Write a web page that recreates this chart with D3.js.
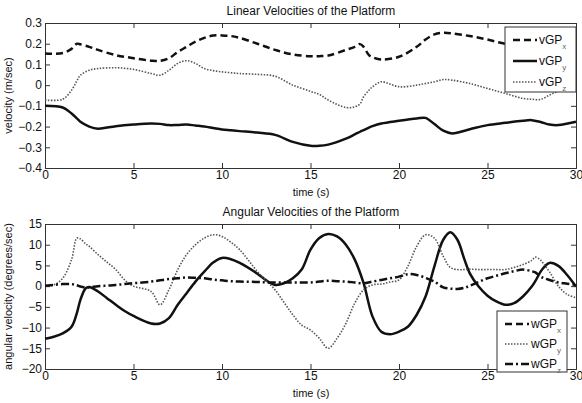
<!DOCTYPE html>
<html>
<head>
<meta charset="utf-8">
<script src="https://cdn.jsdelivr.net/npm/d3@7"></script>
<style>
  body { margin: 0; background: #fff; }
  text { font-family: "Liberation Sans", Arial, sans-serif; fill: #111; }
</style>
</head>
<body>
<div id="chart"></div>
<script>
// time samples and series for the linear velocity panel
const tLin = [0, 1, 1.5, 1.8, 2, 2.5, 3, 4, 5, 6, 6.5, 7, 7.5, 8, 8.5, 9, 9.5, 10, 10.5, 11, 12, 13, 14, 15, 15.5, 16, 17, 17.5, 17.8, 18, 18.3, 18.5, 19, 20, 21, 21.5, 22, 22.5, 23, 24, 25, 26, 27, 27.5, 28, 28.5, 29, 30];
const vGPx = [0.153, 0.155, 0.175, 0.2, 0.197, 0.185, 0.17, 0.145, 0.13, 0.118, 0.117, 0.13, 0.16, 0.185, 0.21, 0.228, 0.24, 0.24, 0.237, 0.228, 0.2, 0.17, 0.148, 0.14, 0.14, 0.143, 0.17, 0.185, 0.198, 0.185, 0.145, 0.135, 0.124, 0.137, 0.185, 0.22, 0.245, 0.253, 0.25, 0.237, 0.22, 0.2, 0.19, 0.19, 0.195, 0.2, 0.21, 0.225];
const vGPy = [-0.1, -0.108, -0.137, -0.16, -0.177, -0.2, -0.21, -0.198, -0.19, -0.185, -0.187, -0.193, -0.192, -0.19, -0.195, -0.2, -0.207, -0.214, -0.218, -0.222, -0.229, -0.24, -0.274, -0.293, -0.293, -0.287, -0.258, -0.238, -0.225, -0.217, -0.205, -0.198, -0.185, -0.172, -0.161, -0.158, -0.188, -0.22, -0.233, -0.213, -0.193, -0.182, -0.172, -0.169, -0.178, -0.19, -0.193, -0.177];
const vGPz = [-0.072, -0.068, -0.024, 0.02, 0.048, 0.072, 0.08, 0.084, 0.076, 0.056, 0.048, 0.072, 0.105, 0.118, 0.105, 0.08, 0.07, 0.064, 0.06, 0.056, 0.052, 0.043, 0.0, -0.03, -0.045, -0.072, -0.108, -0.105, -0.09, -0.056, -0.025, -0.008, 0.016, -0.008, 0.0, 0.008, 0.016, 0.027, 0.024, 0.008, -0.016, -0.04, -0.064, -0.068, -0.069, -0.048, -0.03, -0.01];

// time samples and series for the angular velocity panel
const tAng = [0, 0.5, 1, 1.5, 1.8, 2, 2.3, 2.5, 3, 3.5, 4, 4.5, 5, 6, 6.5, 7, 7.5, 8, 8.5, 9, 9.5, 10, 10.5, 11, 12, 12.5, 13, 13.5, 14, 14.5, 15, 15.5, 16, 16.5, 17, 17.5, 18, 18.5, 19, 19.5, 20, 20.5, 21, 21.5, 22, 22.5, 22.9, 23.3, 23.7, 24, 24.5, 25, 25.5, 26, 26.5, 27, 27.5, 27.7, 28, 28.2, 28.5, 29, 29.5, 30];
const wGPx = [-12.7, -12.2, -11.4, -9.8, -6.5, -3.3, -0.5, -0.2, -1.3, -2.9, -4.5, -6.0, -7.2, -9.0, -9.0, -7.7, -4.5, -1.7, 1.1, 3.5, 5.7, 6.8, 6.5, 5.6, 3.0, 1.4, 0.3, 0.7, 1.9, 4.0, 8.8, 11.6, 12.6, 12.0, 10.0, 6.4, 0.7, -7.3, -11.0, -11.6, -11.0, -9.8, -6.9, -2.5, 4.8, 11.2, 13.0, 11.2, 6.4, 3.1, -0.1, -2.3, -3.7, -4.5, -4.1, -2.5, -0.1, 1.2, 3.5, 4.6, 5.6, 4.9, 2.7, -0.1];
const wGPy = [0, 0.3, 1.9, 6.4, 11.6, 11.4, 10.2, 9.6, 7.6, 5.8, 4.0, 1.5, 0, -1.3, -4.5, -0.9, 4.0, 7.6, 10, 11.6, 12.4, 12, 10.6, 8.8, 3.5, 1.3, -0.9, -3.9, -6.9, -9.4, -10.6, -12.6, -15, -12.6, -9.0, -4.1, -0.9, 0.3, 0.5, 1.0, 1.5, 4.8, 9.6, 12.4, 11.6, 7.2, 4.5, 4.0, 4.0, 4.1, 4.0, 4.0, 4.0, 4.0, 4.5, 5.2, 6.2, 7.0, 6.3, 5.2, 3.5, 0, -2, -2.8];
const wGPz = [0.1, 0.3, 0.5, 0.5, 0.2, -0.1, -0.3, -0.3, 0, 0.1, 0.3, 0.5, 0.7, 1.1, 1.4, 1.7, 1.9, 2.1, 2.0, 1.9, 1.6, 1.4, 1.2, 1.1, 1.0, 0.9, 0.9, 0.9, 0.9, 0.9, 0.9, 1.1, 1.3, 1.2, 1.1, 0.9, 0.7, 1.1, 1.5, 1.9, 2.3, 2.9, 2.7, 2.0, 1.1, -0.3, -0.6, -0.7, -0.4, 0.1, 1.0, 1.9, 2.5, 3.1, 3.6, 4.0, 3.6, 3.3, 2.3, 1.9, 1.5, 0.9, 0.6, 0.3];

const xTicks = [0, 5, 10, 15, 20, 25, 30];
const linTicks = [0.3, 0.2, 0.1, 0, -0.1, -0.2, -0.3, -0.4];
const angTicks = [15, 10, 5, 0, -5, -10, -15, -20];

const W = 582, H = 403;
const svg = d3.select("#chart").append("svg")
  .attr("width", W)
  .attr("height", H);

const x = d3.scaleLinear().domain([0, 30]).range([45, 576]);

function panel(cfg) {
  const y = d3.scaleLinear().domain(cfg.domain).range([cfg.bottom, cfg.top]);
  const g = svg.append("g");

  g.append("rect")
    .attr("x", 45).attr("y", cfg.top)
    .attr("width", 531).attr("height", cfg.bottom - cfg.top)
    .attr("fill", "#fff");

  // bottom & left axes with inward ticks, plus mirrored ticks top & right
  const xb = g.append("g").attr("transform", `translate(0,${cfg.bottom})`)
    .call(d3.axisBottom(x).tickValues(xTicks).tickSize(-5).tickPadding(2).tickFormat(d3.format("d")));
  const xt = g.append("g").attr("transform", `translate(0,${cfg.top})`)
    .call(d3.axisTop(x).tickValues(xTicks).tickSize(-5).tickFormat(""));
  const yl = g.append("g").attr("transform", "translate(45,0)")
    .call(d3.axisLeft(y).tickValues(cfg.ticks).tickSize(-5).tickPadding(3).tickFormat(cfg.fmt));
  const yr = g.append("g").attr("transform", "translate(576,0)")
    .call(d3.axisRight(y).tickValues(cfg.ticks).tickSize(-5).tickFormat(""));
  [xb, xt, yl, yr].forEach(a => {
    a.select(".domain").attr("stroke", "#333");
    a.selectAll(".tick line").attr("stroke", "#333");
    a.selectAll("text").style("font-size", "12px").attr("fill", "#111");
  });

  g.append("text")
    .attr("x", 311).attr("y", cfg.top - 8)
    .attr("text-anchor", "middle")
    .style("font-size", "12px")
    .text(cfg.title);

  g.append("text")
    .attr("x", 311).attr("y", cfg.bottom + 28)
    .attr("text-anchor", "middle")
    .style("font-size", "11px")
    .text("time (s)");

  g.append("text")
    .attr("transform", `translate(${cfg.ylabX},${(cfg.top + cfg.bottom) / 2}) rotate(-90)`)
    .attr("text-anchor", "middle")
    .style("font-size", "11px")
    .text(cfg.ylabel);

  const line = d3.line()
    .x((d, i) => x(cfg.t[i]))
    .y(d => y(d))
    .curve(d3.curveCatmullRom);

  cfg.series.forEach(s => {
    g.append("path")
      .datum(s.values)
      .attr("d", line)
      .attr("fill", "none")
      .attr("stroke", s.color)
      .attr("stroke-width", s.width)
      .attr("stroke-dasharray", s.dash);
  });

  // legend
  const L = cfg.legend;
  const lg = g.append("g");
  lg.append("rect")
    .attr("x", L.x).attr("y", L.y)
    .attr("width", L.w).attr("height", L.h)
    .attr("fill", "#fff").attr("stroke", "#333").attr("stroke-width", 1);
  L.items.forEach((it, i) => {
    const cy = L.y + 13 + i * L.step;
    lg.append("line")
      .attr("x1", L.x + 8).attr("x2", L.x + 32)
      .attr("y1", cy).attr("y2", cy)
      .attr("stroke", it.color)
      .attr("stroke-width", it.width)
      .attr("stroke-dasharray", it.dash);
    const tx = lg.append("text")
      .attr("x", L.x + 34).attr("y", cy + 4)
      .style("font-size", "12px");
    tx.append("tspan").text(it.name);
    tx.append("tspan").attr("dy", 5).style("font-size", "8px").attr("fill", "#666").text(it.sub);
  });
}

panel({
  top: 23, bottom: 168,
  domain: [-0.4, 0.3],
  ticks: linTicks,
  fmt: d => d === 0 ? "0" : d3.format(".1f")(d),
  title: "Linear Velocities of the Platform",
  ylabel: "velocity (m/sec)",
  ylabX: 12,
  t: tLin,
  series: [
    { values: vGPx, color: "#111", width: 2.5, dash: "7,4" },
    { values: vGPy, color: "#111", width: 2.5, dash: null },
    { values: vGPz, color: "#555", width: 1.6, dash: "1.5,1.5" }
  ],
  legend: {
    x: 505, y: 27, w: 71, h: 65, step: 21,
    items: [
      { name: "vGP", sub: "x", color: "#111", width: 2.5, dash: "7,4" },
      { name: "vGP", sub: "y", color: "#111", width: 2.5, dash: null },
      { name: "vGP", sub: "z", color: "#555", width: 1.6, dash: "1.5,1.5" }
    ]
  }
});

panel({
  top: 224, bottom: 369,
  domain: [-20, 15],
  ticks: angTicks,
  fmt: d3.format("d"),
  title: "Angular Velocities of the Platform",
  ylabel: "angular velocity (degrees/sec)",
  ylabX: 12,
  t: tAng,
  series: [
    { values: wGPx, color: "#111", width: 2.5, dash: null },
    { values: wGPy, color: "#555", width: 1.6, dash: "1.5,1.5" },
    { values: wGPz, color: "#111", width: 2.5, dash: "8,3,2,3" }
  ],
  legend: {
    x: 497, y: 311, w: 70, h: 61, step: 20,
    items: [
      { name: "wGP", sub: "x", color: "#111", width: 2.5, dash: "7,4" },
      { name: "wGP", sub: "y", color: "#555", width: 1.6, dash: "1.5,1.5" },
      { name: "wGP", sub: "z", color: "#111", width: 2.5, dash: "8,3,2,3" }
    ]
  }
});
</script>
</body>
</html>
